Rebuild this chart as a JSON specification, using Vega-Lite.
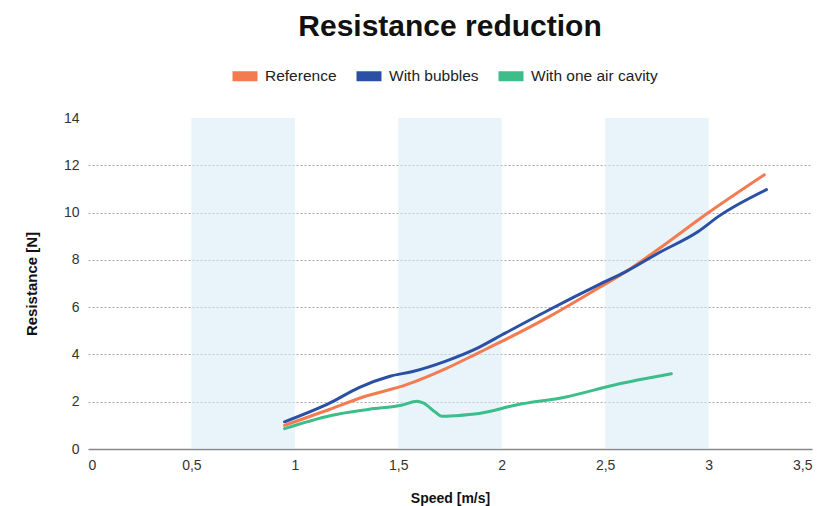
{
  "$schema": "https://vega.github.io/schema/vega-lite/v6.json",
  "width": 724,
  "height": 331,
  "autosize": {"type": "none"},
  "padding": {"left": 88, "top": 118, "right": 11, "bottom": 57},
  "background": "white",
  "title": {"text": "Resistance reduction", "fontSize": 30, "font": "Liberation Sans", "fontWeight": "bold", "color": "#111111", "anchor": "middle", "frame": "group", "offset": 24},
  "config": {"view": {"stroke": null}, "font": "Liberation Sans"},
  "datasets": {
    "bands": [
      {"start": 0.5, "end": 1.0},
      {"start": 1.5, "end": 2.0},
      {"start": 2.5, "end": 3.0}
    ],
    "curves": [
      {"series": "Reference", "speed": 0.95, "resistance": 1.0},
      {"series": "Reference", "speed": 1.17, "resistance": 1.68},
      {"series": "Reference", "speed": 1.33, "resistance": 2.2},
      {"series": "Reference", "speed": 1.54, "resistance": 2.72},
      {"series": "Reference", "speed": 1.73, "resistance": 3.4},
      {"series": "Reference", "speed": 1.89, "resistance": 4.08},
      {"series": "Reference", "speed": 2.0, "resistance": 4.55},
      {"series": "Reference", "speed": 2.23, "resistance": 5.6},
      {"series": "Reference", "speed": 2.47, "resistance": 6.82},
      {"series": "Reference", "speed": 2.6, "resistance": 7.5},
      {"series": "Reference", "speed": 2.76, "resistance": 8.47},
      {"series": "Reference", "speed": 3.0, "resistance": 10.0},
      {"series": "Reference", "speed": 3.27, "resistance": 11.6},
      {"series": "With bubbles", "speed": 0.95, "resistance": 1.15},
      {"series": "With bubbles", "speed": 1.17, "resistance": 1.95},
      {"series": "With bubbles", "speed": 1.31, "resistance": 2.6},
      {"series": "With bubbles", "speed": 1.46, "resistance": 3.08},
      {"series": "With bubbles", "speed": 1.57, "resistance": 3.28},
      {"series": "With bubbles", "speed": 1.73, "resistance": 3.72},
      {"series": "With bubbles", "speed": 1.89, "resistance": 4.3},
      {"series": "With bubbles", "speed": 2.0, "resistance": 4.82},
      {"series": "With bubbles", "speed": 2.23, "resistance": 5.89},
      {"series": "With bubbles", "speed": 2.47, "resistance": 6.95},
      {"series": "With bubbles", "speed": 2.6, "resistance": 7.5},
      {"series": "With bubbles", "speed": 2.76, "resistance": 8.3},
      {"series": "With bubbles", "speed": 2.95, "resistance": 9.2},
      {"series": "With bubbles", "speed": 3.05, "resistance": 9.85},
      {"series": "With bubbles", "speed": 3.28, "resistance": 10.97},
      {"series": "With one air cavity", "speed": 0.95, "resistance": 0.86},
      {"series": "With one air cavity", "speed": 1.17, "resistance": 1.41},
      {"series": "With one air cavity", "speed": 1.36, "resistance": 1.68},
      {"series": "With one air cavity", "speed": 1.52, "resistance": 1.86},
      {"series": "With one air cavity", "speed": 1.59, "resistance": 2.02},
      {"series": "With one air cavity", "speed": 1.62, "resistance": 1.95},
      {"series": "With one air cavity", "speed": 1.68, "resistance": 1.55},
      {"series": "With one air cavity", "speed": 1.71, "resistance": 1.38},
      {"series": "With one air cavity", "speed": 1.78, "resistance": 1.41},
      {"series": "With one air cavity", "speed": 1.89, "resistance": 1.5},
      {"series": "With one air cavity", "speed": 2.07, "resistance": 1.86},
      {"series": "With one air cavity", "speed": 2.31, "resistance": 2.2},
      {"series": "With one air cavity", "speed": 2.55, "resistance": 2.72},
      {"series": "With one air cavity", "speed": 2.82, "resistance": 3.18}
    ]
  },
  "layer": [
    {
      "data": {"name": "bands"},
      "mark": {"type": "rect", "color": "#d2eaf4", "opacity": 0.5},
      "encoding": {
        "x": {"field": "start", "type": "quantitative", "scale": {"domain": [0, 3.5], "nice": false}},
        "x2": {"field": "end"}
      }
    },
    {
      "data": {"name": "curves"},
      "mark": {"type": "line", "interpolate": "monotone", "strokeWidth": 3, "strokeCap": "round"},
      "encoding": {
        "x": {
          "field": "speed", "type": "quantitative",
          "scale": {"domain": [0, 3.5], "nice": false},
          "axis": {
            "values": [0, 0.5, 1, 1.5, 2, 2.5, 3, 3.5],
            "format": "~g",
            "labelExpr": "replace(datum.label, '.', ',')",
            "grid": false, "ticks": false,
            "domain": true, "domainColor": "#888888", "domainWidth": 1.5,
            "labelFontSize": 14, "labelColor": "#333333", "labelPadding": 9,
            "title": "Speed [m/s]", "titleFontSize": 14, "titleFontWeight": "bold", "titleColor": "#111111", "titlePadding": 19
          }
        },
        "y": {
          "field": "resistance", "type": "quantitative",
          "scale": {"domain": [0, 14], "nice": false},
          "axis": {
            "values": [0, 2, 4, 6, 8, 10, 12, 14],
            "grid": true, "gridDash": [2, 2], "gridColor": "#aaaaaa", "gridWidth": 1,
            "gridOpacity": {"condition": {"test": "datum.value == 0 || datum.value == 14", "value": 0}, "value": 1},
            "ticks": false, "domain": false,
            "labelFontSize": 14, "labelColor": "#333333", "labelPadding": 9,
            "title": "Resistance [N]", "titleFontSize": 15, "titleFontWeight": "bold", "titleColor": "#111111", "titlePadding": 24
          }
        },
        "color": {
          "field": "series", "type": "nominal",
          "scale": {"domain": ["Reference", "With bubbles", "With one air cavity"], "range": ["#f47a50", "#2a50a5", "#3dbd8a"]},
          "legend": {
            "orient": "none", "legendX": 147, "legendY": -52,
            "direction": "horizontal", "title": null,
            "symbolType": "M-1.25,-0.5L1.25,-0.5L1.25,0.5L-1.25,0.5Z",
            "symbolSize": 400, "symbolStrokeWidth": 0,
            "labelFontSize": 15.5, "labelColor": "#222222", "labelOffset": 10, "columnPadding": 19,
            "encode": {"symbols": {"update": {
              "shape": {"value": "M-1.25,-0.5L1.25,-0.5L1.25,0.5L-1.25,0.5Z"},
              "size": {"value": 400},
              "fill": {"scale": "color", "field": "value"},
              "fillOpacity": {"value": 1},
              "strokeWidth": {"value": 0}
            }}}
          }
        }
      }
    }
  ]
}
